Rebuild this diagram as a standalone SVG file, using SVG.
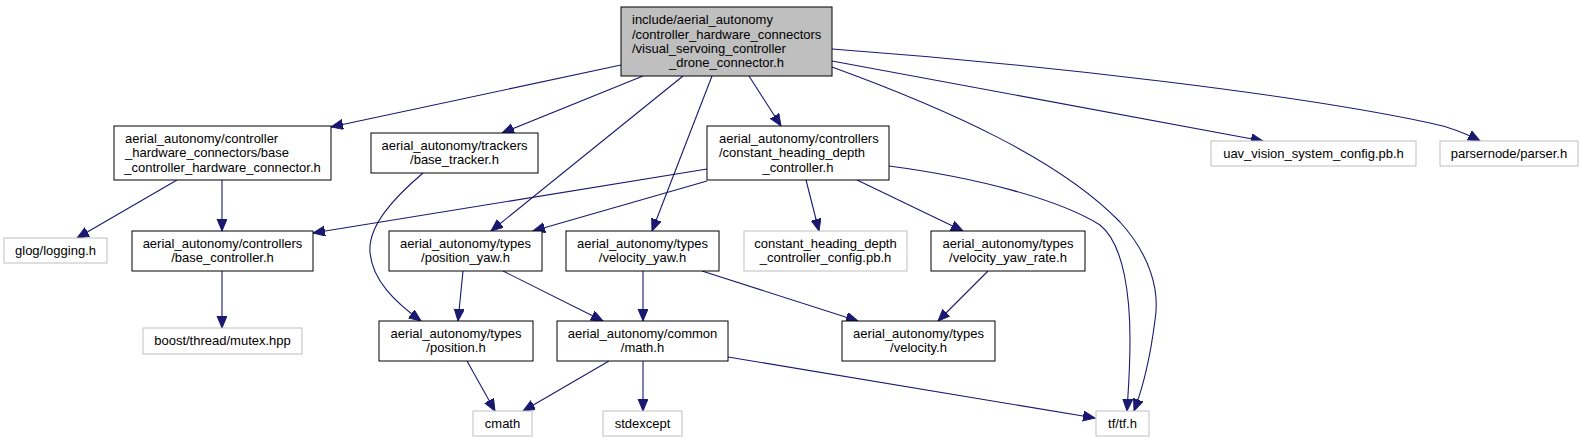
<svg xmlns="http://www.w3.org/2000/svg" width="1583" height="443" viewBox="0 0 1583 443">
<style>
text{font-family:"Liberation Sans",Arial,sans-serif;font-size:13px;fill:#000}
.n rect{fill:#fff;stroke:#000;stroke-width:1}
.x rect{fill:#fff;stroke:#bfbfbf;stroke-width:1}
.r rect{fill:#bfbfbf;stroke:#000;stroke-width:1}
.m{text-anchor:middle}
#edges path{fill:none;stroke:#191970;stroke-width:1.1}
</style>
<defs>
<marker id="ah" markerWidth="15" markerHeight="12" refX="12" refY="5" orient="auto" markerUnits="userSpaceOnUse">
<path d="M0,0 L12,5 L0,10 Z" fill="#191970" stroke="#191970" stroke-width="1"/>
</marker>
</defs>
<rect width="1583" height="443" fill="#fff"/>
<g id="edges">
<path marker-end="url(#ah)" d="M621,65 L331,127"/>
<path marker-end="url(#ah)" d="M643,76 L502,133"/>
<path marker-end="url(#ah)" d="M683,76 L491,231"/>
<path marker-end="url(#ah)" d="M712,76 L652,231"/>
<path marker-end="url(#ah)" d="M749,76 L781,126"/>
<path marker-end="url(#ah)" d="M832,67 C950,110 1060,160 1120,222 C1150,255 1160,290 1155,320 C1150,360 1142,390 1134,411"/>
<path marker-end="url(#ah)" d="M832,61 L1263,141"/>
<path marker-end="url(#ah)" d="M832,49 C1050,65 1300,95 1430,123 C1450,127 1465,133 1480,141"/>
<path marker-end="url(#ah)" d="M177,180 L77,238"/>
<path marker-end="url(#ah)" d="M222,180 L222,231"/>
<path marker-end="url(#ah)" d="M423,173 C395,197 368,225 370,252 C372,280 395,302 421,321"/>
<path marker-end="url(#ah)" d="M707,169 L313,233"/>
<path marker-end="url(#ah)" d="M707,181 L533,231"/>
<path marker-end="url(#ah)" d="M806,180 L819,231"/>
<path marker-end="url(#ah)" d="M857,180 L963,231"/>
<path marker-end="url(#ah)" d="M889,166 C980,178 1060,200 1100,225 C1125,245 1130,300 1130,340 C1130,370 1128,395 1127,411"/>
<path marker-end="url(#ah)" d="M463,271 L458,321"/>
<path marker-end="url(#ah)" d="M503,271 L603,321"/>
<path marker-end="url(#ah)" d="M643,271 L643,321"/>
<path marker-end="url(#ah)" d="M702,271 L858,321"/>
<path marker-end="url(#ah)" d="M988,271 L938,321"/>
<path marker-end="url(#ah)" d="M467,361 L495,411"/>
<path marker-end="url(#ah)" d="M609,361 L523,411"/>
<path marker-end="url(#ah)" d="M643,361 L643,411"/>
<path marker-end="url(#ah)" d="M728,357 L1095,418"/>
<path marker-end="url(#ah)" d="M222,271 L222,328"/>
</g>
<g id="root" class="r">
<rect x="621" y="7" width="211" height="69"/>
<text x="632" y="24">include/aerial_autonomy</text>
<text x="632" y="38.5">/controller_hardware_connectors</text>
<text x="632" y="53">/visual_servoing_controller</text>
<text x="726.5" y="67" class="m">_drone_connector.h</text>
</g>
<g id="base_hw_connector" class="n">
<rect x="114" y="126" width="217" height="54"/>
<text x="125" y="142.5">aerial_autonomy/controller</text>
<text x="125" y="157">_hardware_connectors/base</text>
<text x="222.5" y="171.5" class="m">_controller_hardware_connector.h</text>
</g>
<g id="base_tracker" class="n">
<rect x="371" y="133" width="167" height="40"/>
<text x="454.5" y="149.5" class="m">aerial_autonomy/trackers</text>
<text x="454.5" y="164" class="m">/base_tracker.h</text>
</g>
<g id="chd_controller" class="n">
<rect x="707" y="126" width="182" height="54"/>
<text x="719" y="142.5">aerial_autonomy/controllers</text>
<text x="719" y="157">/constant_heading_depth</text>
<text x="798" y="171.5" class="m">_controller.h</text>
</g>
<g id="uav_config" class="x">
<rect x="1211" y="141" width="205" height="25"/>
<text x="1313.5" y="157.5" class="m">uav_vision_system_config.pb.h</text>
</g>
<g id="parser" class="x">
<rect x="1440" y="141" width="138" height="25"/>
<text x="1509" y="157.5" class="m">parsernode/parser.h</text>
</g>
<g id="glog" class="x">
<rect x="4" y="238" width="103" height="25"/>
<text x="55.5" y="254.5" class="m">glog/logging.h</text>
</g>
<g id="base_controller" class="n">
<rect x="132" y="231" width="181" height="40"/>
<text x="222.5" y="247.5" class="m">aerial_autonomy/controllers</text>
<text x="222.5" y="261.5" class="m">/base_controller.h</text>
</g>
<g id="mutex" class="x">
<rect x="143" y="328" width="159" height="26"/>
<text x="222.5" y="345" class="m">boost/thread/mutex.hpp</text>
</g>
<g id="position_yaw" class="n">
<rect x="389" y="231" width="153" height="40"/>
<text x="465.5" y="247.5" class="m">aerial_autonomy/types</text>
<text x="465.5" y="261.5" class="m">/position_yaw.h</text>
</g>
<g id="velocity_yaw" class="n">
<rect x="566" y="231" width="153" height="40"/>
<text x="642.5" y="247.5" class="m">aerial_autonomy/types</text>
<text x="642.5" y="261.5" class="m">/velocity_yaw.h</text>
</g>
<g id="chd_config" class="x">
<rect x="744" y="231" width="163" height="40"/>
<text x="825.5" y="247.5" class="m">constant_heading_depth</text>
<text x="825.5" y="261.5" class="m">_controller_config.pb.h</text>
</g>
<g id="velocity_yaw_rate" class="n">
<rect x="931" y="231" width="154" height="40"/>
<text x="1008" y="247.5" class="m">aerial_autonomy/types</text>
<text x="1008" y="261.5" class="m">/velocity_yaw_rate.h</text>
</g>
<g id="position" class="n">
<rect x="379" y="321" width="154" height="40"/>
<text x="456" y="337.5" class="m">aerial_autonomy/types</text>
<text x="456" y="351.5" class="m">/position.h</text>
</g>
<g id="math" class="n">
<rect x="557" y="321" width="171" height="40"/>
<text x="642.5" y="337.5" class="m">aerial_autonomy/common</text>
<text x="642.5" y="351.5" class="m">/math.h</text>
</g>
<g id="velocity" class="n">
<rect x="842" y="321" width="153" height="40"/>
<text x="918.5" y="337.5" class="m">aerial_autonomy/types</text>
<text x="918.5" y="351.5" class="m">/velocity.h</text>
</g>
<g id="cmath" class="x">
<rect x="473" y="411" width="59" height="25"/>
<text x="502.5" y="428" class="m">cmath</text>
</g>
<g id="stdexcept" class="x">
<rect x="603" y="411" width="79" height="25"/>
<text x="642.5" y="428" class="m">stdexcept</text>
</g>
<g id="tf" class="x">
<rect x="1096" y="411" width="53" height="25"/>
<text x="1122.5" y="428" class="m">tf/tf.h</text>
</g>
</svg>
